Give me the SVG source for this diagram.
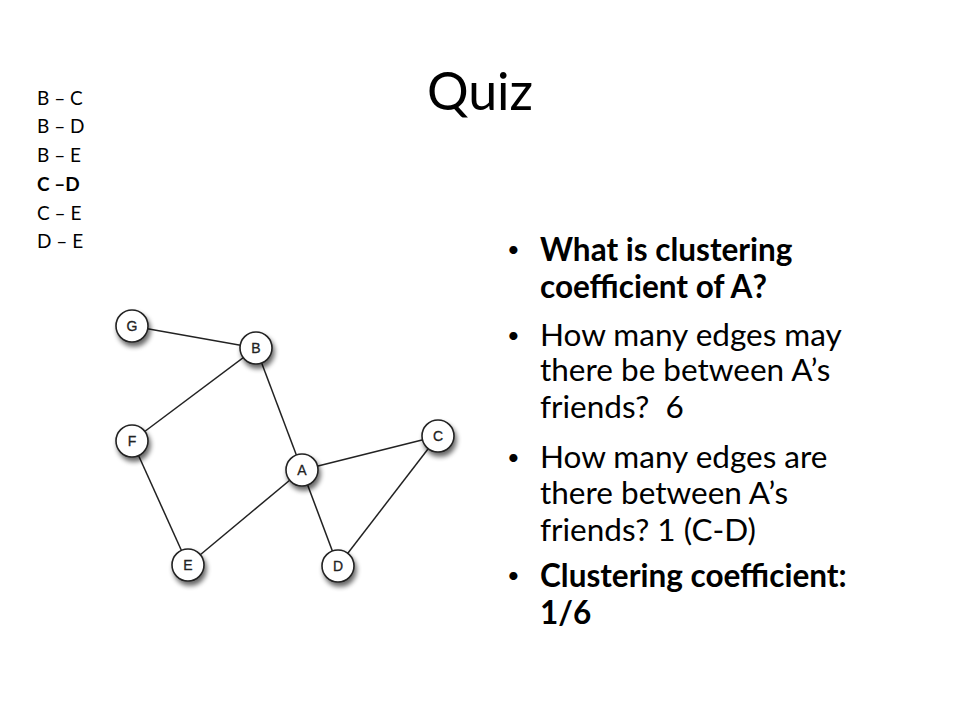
<svg xmlns="http://www.w3.org/2000/svg" width="960" height="720" viewBox="0 0 960 720">
<defs>
<filter id="sh" x="-50%" y="-50%" width="200%" height="200%">
<feGaussianBlur in="SourceAlpha" stdDeviation="2.5"/>
<feOffset dx="2" dy="4" result="b"/>
<feComponentTransfer><feFuncA type="linear" slope="0.6"/></feComponentTransfer>
<feMerge><feMergeNode/><feMergeNode in="SourceGraphic"/></feMerge>
</filter>
</defs>
<style>
.t{font-family:Lato,"Liberation Sans",Arial,sans-serif;fill:#000}
.q{font-size:31.5px}
.bu{font-size:22px}
.b{font-weight:bold}
.l{font-size:19px}
.n circle{fill:#fff;stroke:#222;stroke-width:1.6;filter:url(#sh)}
.n text{font-family:"Liberation Sans",Arial,sans-serif;font-size:14px;text-anchor:middle;fill:#222;stroke:#222;stroke-width:0.3}
.e line{stroke:#222;stroke-width:1.5}
</style>
<rect width="960" height="720" fill="#fff"/>
<text class="t" x="480" y="110" font-size="52" text-anchor="middle">Quiz</text>
<g class="t l">
<text x="37" y="105">B – C</text>
<text x="37" y="133">B – D</text>
<text x="37" y="162">B – E</text>
<text x="37" y="191" class="b">C –D</text>
<text x="37" y="220">C – E</text>
<text x="37" y="248">D – E</text>
</g>
<g class="e">
<line x1="132" y1="326" x2="256" y2="348"/>
<line x1="256" y1="348" x2="132" y2="441"/>
<line x1="256" y1="348" x2="302" y2="470"/>
<line x1="132" y1="441" x2="188" y2="565"/>
<line x1="188" y1="565" x2="302" y2="470"/>
<line x1="302" y1="470" x2="438" y2="436"/>
<line x1="302" y1="470" x2="338" y2="566"/>
<line x1="438" y1="436" x2="338" y2="566"/>
</g>
<g id="G" class="n"><circle cx="132" cy="326" r="16"/><text x="132" y="331">G</text></g>
<g id="B" class="n"><circle cx="256" cy="348" r="16"/><text x="256" y="353">B</text></g>
<g id="F" class="n"><circle cx="132" cy="441" r="16"/><text x="132" y="446">F</text></g>
<g id="A" class="n"><circle cx="302" cy="470" r="16"/><text x="302" y="475">A</text></g>
<g id="C" class="n"><circle cx="438" cy="436" r="16"/><text x="438" y="441">C</text></g>
<g id="D" class="n"><circle cx="338" cy="566" r="16"/><text x="338" y="571">D</text></g>
<g id="E" class="n"><circle cx="188" cy="565" r="16"/><text x="188" y="570">E</text></g>
<g class="t q">
<text x="507" y="257" class="bu">•</text>
<text x="540" y="261" class="b">What is clustering</text>
<text x="540" y="298" class="b">coefficient of A?</text>
<text x="507" y="343" class="bu">•</text>
<text x="540" y="346">How many edges may</text>
<text x="540" y="381">there be between A’s</text>
<text x="540" y="418" xml:space="preserve">friends?  6</text>
<text x="507" y="465" class="bu">•</text>
<text x="540" y="468">How many edges are</text>
<text x="540" y="504">there between A’s</text>
<text x="540" y="541">friends? 1 (C-D)</text>
<text x="507" y="583" class="bu">•</text>
<text x="540" y="587" class="b">Clustering coefficient:</text>
<text x="540" y="624" class="b">1/6</text>
</g>
</svg>
